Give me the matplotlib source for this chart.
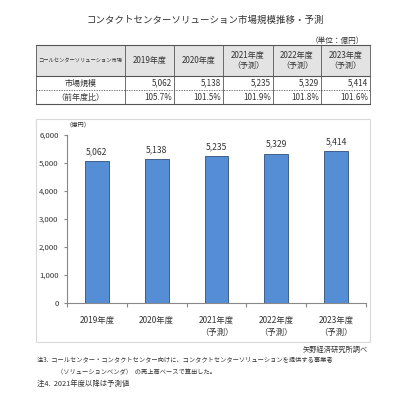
import matplotlib.pyplot as plt
import matplotlib.patches as patches
import numpy as np

plt.rcParams['font.family'] = ['Noto Sans CJK JP', 'DejaVu Sans']

years = ['2019年度', '2020年度', '2021年度', '2022年度', '2023年度']
forecast = [False, False, True, True, True]
market = [5062, 5138, 5235, 5329, 5414]
yoy = [105.7, 101.5, 101.9, 101.8, 101.6]
yticks = [0, 1000, 2000, 3000, 4000, 5000, 6000]

W, H = 409, 399
fig = plt.figure(figsize=(W / 100, H / 100), dpi=100)

# overlay in pixel coordinates for table and texts
ov = fig.add_axes([0, 0, 1, 1])
ov.set_xlim(0, W)
ov.set_ylim(H, 0)
ov.axis('off')

txt = '#333333'
ov.text(205, 20, 'コンタクトセンターソリューション市場規模推移・予測', ha='center', va='center',
        fontsize=6.8, color=txt)
ov.text(364, 41, '（単位：億円）', ha='right', va='center', fontsize=5.5, color=txt)

# table
cols = [36, 125, 174, 223, 273, 321, 370]
rows = [45, 76, 90, 104]
ov.add_patch(patches.Rectangle((cols[0], rows[0]), cols[-1] - cols[0], rows[1] - rows[0],
                               facecolor='#e3e3e3', edgecolor='none'))
lc = '#555555'
ov.plot([cols[0], cols[-1]], [rows[0], rows[0]], color=lc, lw=0.8)
ov.plot([cols[0], cols[-1]], [rows[1], rows[1]], color=lc, lw=0.8)
ov.plot([cols[0], cols[-1]], [rows[2], rows[2]], color=lc, lw=0.6, ls=(0, (1.5, 1.5)))
ov.plot([cols[0], cols[-1]], [rows[3], rows[3]], color=lc, lw=0.8)
for c in cols:
    ov.plot([c, c], [rows[0], rows[3]], color=lc, lw=0.6)

ov.text((cols[0] + cols[1]) / 2, (rows[0] + rows[1]) / 2, 'コールセンターソリューション市場',
        ha='center', va='center', fontsize=3.8, color=txt)
ov.text((cols[0] + cols[1]) / 2, (rows[1] + rows[2]) / 2, '市場規模',
        ha='center', va='center', fontsize=5.8, color=txt)
ov.text((cols[0] + cols[1]) / 2, (rows[2] + rows[3]) / 2, '（前年度比）',
        ha='center', va='center', fontsize=5.8, color=txt)
for i, (y, f) in enumerate(zip(years, forecast)):
    cx = (cols[i + 1] + cols[i + 2]) / 2
    label = y + '\n（予測）' if f else y
    ov.text(cx, (rows[0] + rows[1]) / 2, label, ha='center', va='center',
            fontsize=5.8, color=txt, linespacing=1.2)
    ov.text(cols[i + 2] - 2, (rows[1] + rows[2]) / 2, f'{market[i]:,}',
            ha='right', va='center', fontsize=5.8, color=txt)
    ov.text(cols[i + 2] - 2, (rows[2] + rows[3]) / 2, f'{yoy[i]:.1f}%',
            ha='right', va='center', fontsize=5.8, color=txt)

# chart frame
ov.add_patch(patches.Rectangle((36, 119), 334, 223, facecolor='white',
                               edgecolor='#d9d9d9', lw=0.8))

# bar chart
ax_l, ax_r, ax_t, ax_b = 67, 366, 135, 303
ax = fig.add_axes([ax_l / W, 1 - ax_b / H, (ax_r - ax_l) / W, (ax_b - ax_t) / H])
ax.patch.set_alpha(0)
x = np.arange(len(years))
ax.bar(x, market, width=0.4, color='#558ed5', edgecolor='#2f4f7a', linewidth=0.6)
for xi, v in zip(x, market):
    ax.text(xi, v + 180, f'{v:,}', ha='center', va='bottom', fontsize=6.2, color=txt)
ax.set_xlim(-0.5, len(years) - 0.5)
ax.set_ylim(0, 6000)
ax.set_yticks(yticks)
ax.set_yticklabels([f'{t:,}' for t in yticks], fontsize=5.6, color=txt)
ax.set_xticks(np.arange(len(years) + 1) - 0.5)
ax.set_xticklabels([])
ax.set_xticks(x, minor=True)
ax.set_xticklabels([y + '\n（予測）' if f else y for y, f in zip(years, forecast)],
                   minor=True, fontsize=6, color=txt, linespacing=1.5, va='top')
ax.tick_params(axis='x', which='minor', length=0, pad=9)
ax.tick_params(axis='x', which='major', length=3, color='#888888', direction='out')
ax.tick_params(axis='y', length=2, color='#888888', pad=4)
for s in ['top', 'right']:
    ax.spines[s].set_visible(False)
for s in ['left', 'bottom']:
    ax.spines[s].set_color('#888888')
    ax.spines[s].set_linewidth(0.8)
ax.text(-0.53, 6250, '（億円）', ha='left', va='bottom', fontsize=4.5, color=txt)

# notes
ov.text(368, 350, '矢野経済研究所調べ', ha='right', va='center', fontsize=5.2, color=txt)
ov.text(37, 360, '注3.  コールセンター・コンタクトセンター向けに、コンタクトセンターソリューションを提供する事業者',
        ha='left', va='center', fontsize=4.5, color=txt)
ov.text(57, 372, '（ソリューションベンダ）  の売上高ベースで算出した。',
        ha='left', va='center', fontsize=4.5, color=txt)
ov.text(37, 384, '注4.  2021年度以降は予測値', ha='left', va='center', fontsize=5.3, color=txt)

fig.savefig('out.png', dpi=100)
